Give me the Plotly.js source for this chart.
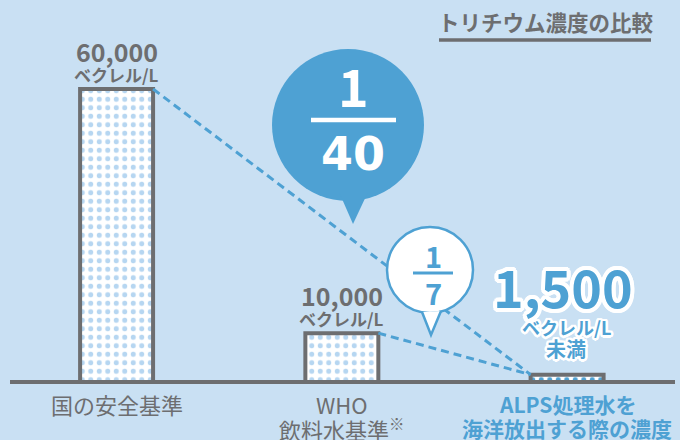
<!DOCTYPE html>
<html>
<head>
<meta charset="utf-8">
<script src="https://cdn.plot.ly/plotly-3.0.1.min.js"></script>
<style>
  html, body { margin: 0; padding: 0; background: #c9e0f3; }
  #chart { width: 680px; height: 440px; }
</style>
</head>
<body>
<div id="chart"></div>
<script>
// ---- data ----
const categories = ['国の安全基準', 'WHO 飲料水基準', 'ALPS処理水を海洋放出する際の濃度'];
const labelLine1 = ['国の安全基準', 'WHO', 'ALPS処理水を'];
const labelLine2 = ['', '飲料水基準<sup>※</sup>', '海洋放出する際の濃度'];
const values = [60000, 10000, 1500];
const unitLabel = 'ベクレル/L';
const lessThan = '未満';
const chartTitle = 'トリチウム濃度の比較';

// ---- style ----
const BG = '#c9e0f3';
const GRAY = '#6d6e70';
const BLUE = '#4ea1d3';
const LIGHTDOT = '#b6d6f1';
const FONT = '"Noto Sans CJK JP", "Noto Sans", sans-serif';
const NUMFONT = '"DejaVu Sans", "Noto Sans CJK JP", sans-serif';

const W = 680, H = 440;
const M = {l: 10, r: 5, t: 10, b: 58};
const PW = W - M.l - M.r, PH = H - M.t - M.b;
const px = x => (x - M.l) / PW;
const py = y => (H - M.b - y) / PH;

function outline(r, c) {
  const s = [];
  for (let a = 0; a < 16; a++) {
    const t = a / 16 * 2 * Math.PI;
    s.push((r * Math.cos(t)).toFixed(1) + 'px ' + (r * Math.sin(t)).toFixed(1) + 'px 0 ' + c);
  }
  return s.join(', ');
}

const idx = categories.map((c, i) => i);
const barWidth = 0.324;
const fmt = v => v.toLocaleString('en-US');

const bars = {
  type: 'bar',
  x: idx,
  y: values,
  width: barWidth,
  marker: {
    color: 'white',
    line: {color: GRAY, width: 4},
    pattern: {
      shape: '.',
      fgcolor: [LIGHTDOT, LIGHTDOT, BLUE],
      bgcolor: 'white',
      size: 8.5,
      solidity: 0.27,
      fillmode: 'replace'
    }
  },
  hoverinfo: 'skip'
};

// dashed comparison lines from top corners of the reference bars to the ALPS bar
const last = values.length - 1;
const dash1 = {
  type: 'scatter', mode: 'lines',
  x: [idx[0] + barWidth / 2, idx[last] - barWidth / 2],
  y: [values[0], values[last]],
  line: {color: BLUE, width: 3, dash: '8px,5px'}, hoverinfo: 'skip'
};
const dash2 = {
  type: 'scatter', mode: 'lines',
  x: [idx[1] + barWidth / 2, idx[last] - barWidth / 2],
  y: [values[1], values[last]],
  line: {color: BLUE, width: 3, dash: '8px,5px'}, hoverinfo: 'skip'
};

const ratio1 = Math.round(values[0] / values[last]);
const ratio2 = Math.round(values[1] / values[last]);

const ann = [];
// value labels for first two bars
[0, 1].forEach(i => {
  ann.push({x: idx[i], y: values[i], xref: 'x', yref: 'y', text: fmt(values[i]), showarrow: false,
    yanchor: 'middle', yshift: 38, font: {family: FONT, size: 25, color: GRAY, weight: 700}});
  ann.push({x: idx[i], y: values[i], xref: 'x', yref: 'y', text: unitLabel, showarrow: false,
    yanchor: 'middle', yshift: 15, font: {family: FONT, size: 17, color: GRAY, weight: 700}});
});
// ALPS value
ann.push({x: idx[last], y: values[last], xref: 'x', yref: 'y', text: fmt(values[last]), showarrow: false,
  yanchor: 'middle', yshift: 89, xshift: -4,
  font: {family: FONT, size: 52, color: BLUE, weight: 700, shadow: outline(4, '#fff')}});
ann.push({x: idx[last], y: values[last], xref: 'x', yref: 'y', text: unitLabel, showarrow: false,
  yanchor: 'middle', yshift: 48, xshift: -1,
  font: {family: FONT, size: 18, color: BLUE, weight: 700, shadow: outline(2.5, '#fff')}});
ann.push({x: idx[last], y: values[last], xref: 'x', yref: 'y', text: lessThan, showarrow: false,
  yanchor: 'middle', yshift: 26, xshift: -1,
  font: {family: FONT, size: 20, color: BLUE, weight: 700, shadow: outline(2.5, '#fff')}});

// category labels
idx.forEach(i => {
  const isLast = i === last;
  const f = {family: FONT, size: isLast ? 21 : 22, color: isLast ? BLUE : GRAY, weight: isLast ? 700 : 400};
  ann.push({x: idx[i], y: 0, xref: 'x', yref: 'paper', text: labelLine1[i], showarrow: false,
    yanchor: 'middle', yshift: -22, font: f});
  if (labelLine2[i]) {
    ann.push({x: idx[i], y: 0, xref: 'x', yref: 'paper', text: labelLine2[i], showarrow: false,
      yanchor: 'middle', yshift: -46, font: f});
  }
});

// title
ann.push({x: px(546), y: py(22), xref: 'paper', yref: 'paper', text: chartTitle, showarrow: false,
  xanchor: 'center', yanchor: 'middle', font: {family: FONT, size: 21.5, color: GRAY, weight: 700}});

// big bubble fraction
ann.push({x: px(353), y: py(84), xref: 'paper', yref: 'paper', text: '1', showarrow: false,
  xanchor: 'center', yanchor: 'middle', font: {family: FONT, size: 52, color: '#fff', weight: 700}});
ann.push({x: px(353), y: py(154), xref: 'paper', yref: 'paper', text: String(ratio1), showarrow: false,
  xanchor: 'center', yanchor: 'middle', font: {family: NUMFONT, size: 46, color: '#fff', weight: 700}});
// small bubble fraction
ann.push({x: px(433), y: py(255), xref: 'paper', yref: 'paper', text: '1', showarrow: false,
  xanchor: 'center', yanchor: 'middle', font: {family: FONT, size: 29, color: BLUE, weight: 700}});
ann.push({x: px(433), y: py(292), xref: 'paper', yref: 'paper', text: String(ratio2), showarrow: false,
  xanchor: 'center', yanchor: 'middle', font: {family: FONT, size: 29, color: BLUE, weight: 700}});

const shapes = [
  // baseline
  {type: 'line', xref: 'paper', yref: 'paper', x0: px(10), x1: px(675), y0: 0, y1: 0,
    line: {color: GRAY, width: 4}, layer: 'above'},
  // title underline
  {type: 'line', xref: 'paper', yref: 'paper', x0: px(439), x1: px(651), y0: py(40), y1: py(40),
    line: {color: GRAY, width: 3.5}},
  // big bubble
  {type: 'circle', xref: 'paper', yref: 'paper', x0: px(272), x1: px(424), y0: py(201), y1: py(49),
    fillcolor: BLUE, line: {width: 0}, layer: 'above'},
  {type: 'path', xref: 'paper', yref: 'paper',
    path: `M${px(339)},${py(192)} L${px(353)},${py(224)} L${px(368)},${py(192)} Z`,
    fillcolor: BLUE, line: {width: 0}, layer: 'above'},
  {type: 'line', xref: 'paper', yref: 'paper', x0: px(311), x1: px(396), y0: py(120), y1: py(120),
    line: {color: '#fff', width: 4.5}, layer: 'above'},
  // small bubble
  {type: 'circle', xref: 'paper', yref: 'paper', x0: px(387), x1: px(473), y0: py(313), y1: py(227),
    fillcolor: '#fff', line: {color: BLUE, width: 2.5}, layer: 'above'},
  {type: 'path', xref: 'paper', yref: 'paper',
    path: `M${px(422)},${py(312)} L${px(431)},${py(335)} L${px(441)},${py(311)}`,
    fillcolor: '#fff', line: {color: BLUE, width: 2.5}, layer: 'above'},
  {type: 'line', xref: 'paper', yref: 'paper', x0: px(413), x1: px(453), y0: py(273), y1: py(273),
    line: {color: BLUE, width: 3}, layer: 'above'}
];

const layout = {
  width: W, height: H,
  margin: M,
  paper_bgcolor: BG, plot_bgcolor: BG,
  showlegend: false,
  xaxis: {range: [-0.4732, 2.479], showgrid: false, zeroline: false, showticklabels: false, showline: false, fixedrange: true},
  yaxis: {range: [0, 76177], showgrid: false, zeroline: false, showticklabels: false, showline: false, fixedrange: true},
  annotations: ann,
  shapes: shapes,
  font: {family: FONT}
};

Plotly.newPlot('chart', [dash1, dash2, bars], layout, {displayModeBar: false, staticPlot: true});
</script>
</body>
</html>
